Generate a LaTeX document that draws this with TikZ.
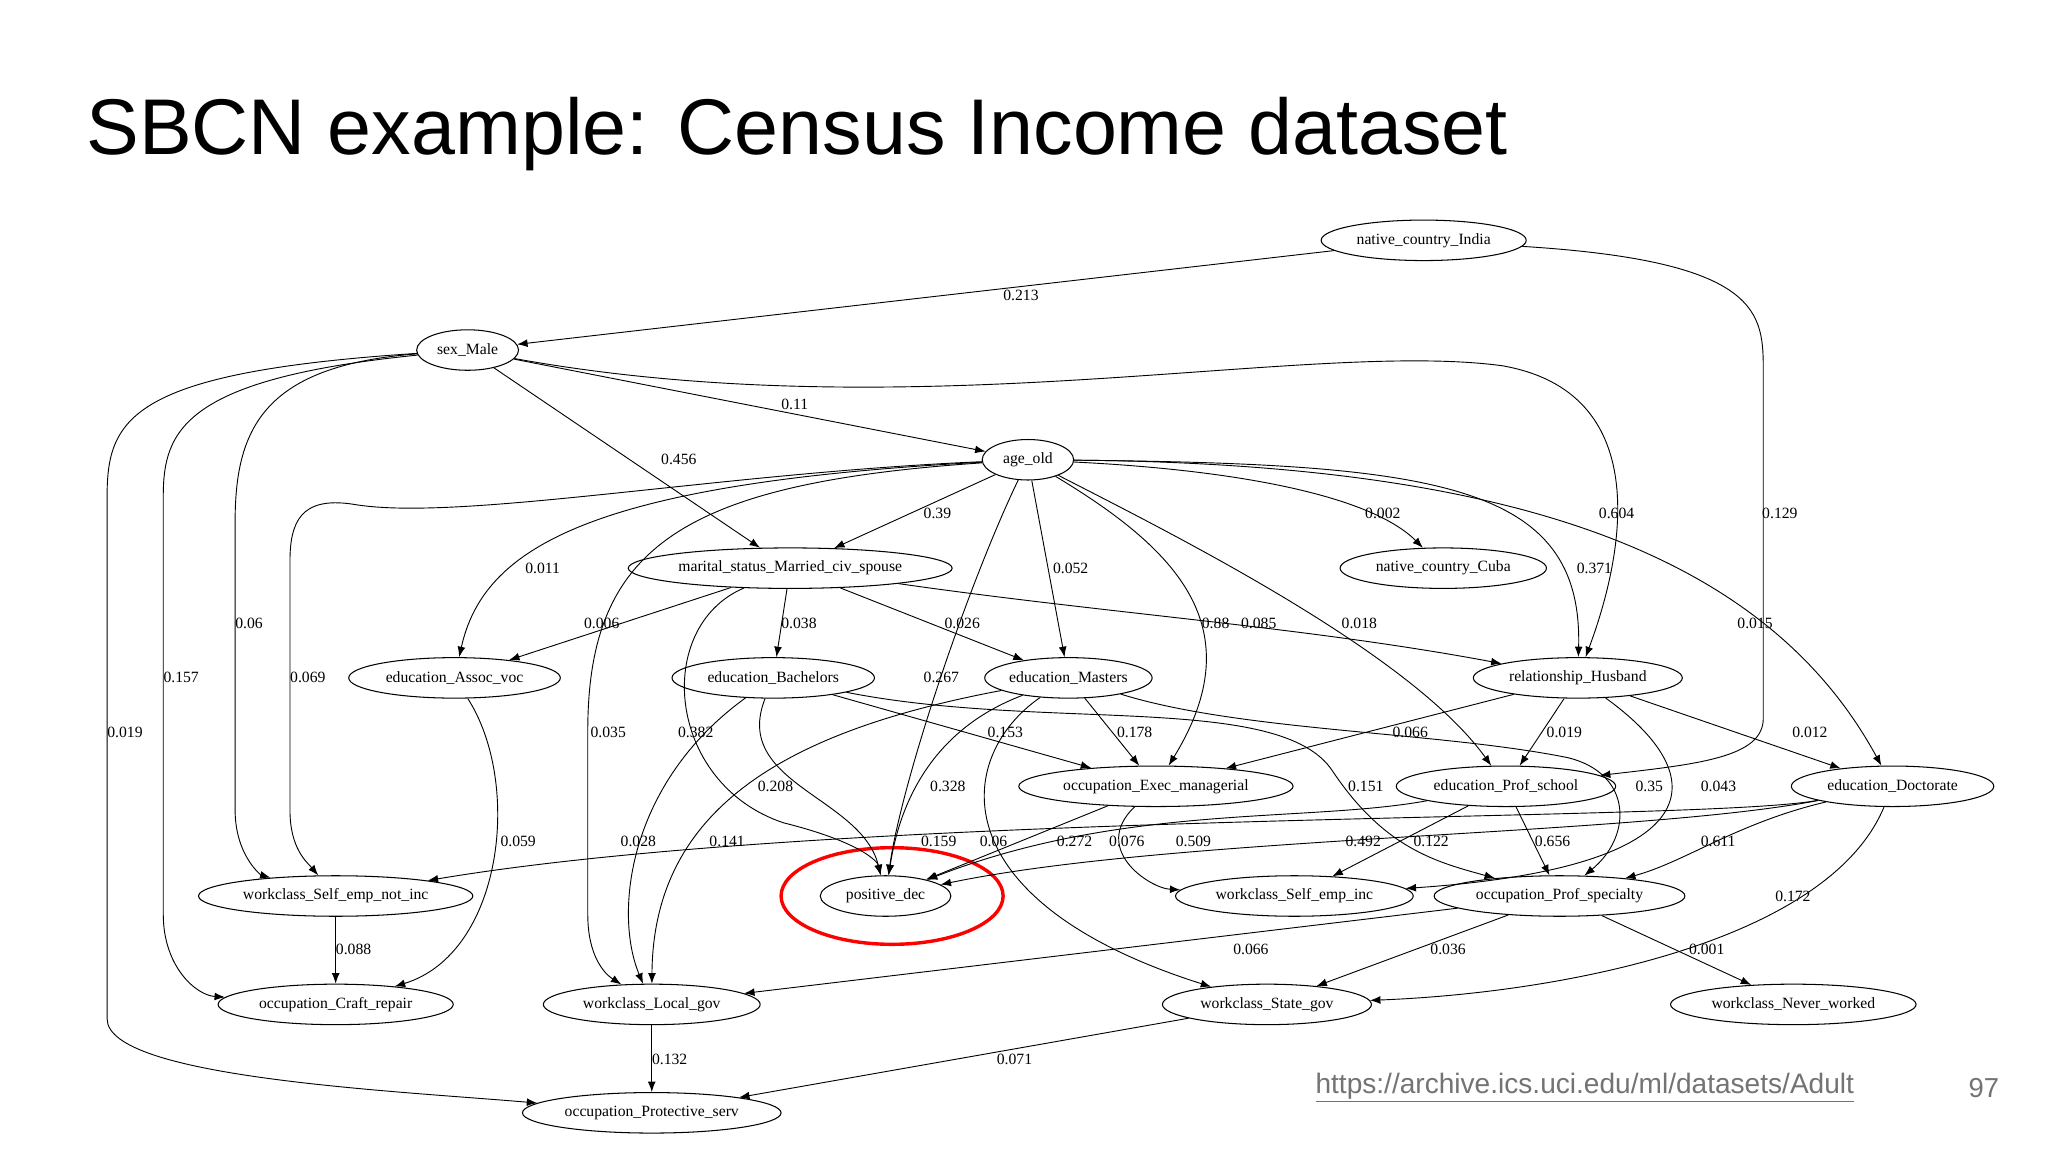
\documentclass[tikz,border=0pt]{standalone}
\usepackage{fontspec}
\setmainfont{Liberation Serif}
\newfontfamily\titlefont{Liberation Sans}
\usetikzlibrary{shapes.geometric,arrows.meta}
\tikzset{
 nd/.style={ellipse,draw,line width=0.8pt,inner sep=0pt,minimum height=31pt,font=\fontsize{12}{14}\selectfont},
 lbl/.style={anchor=west,inner sep=0pt,font=\fontsize{12}{14}\selectfont},
 ed/.style={draw,line width=0.7pt,-{Latex[length=8pt,width=6pt]}}
}
\begin{document}
\begin{tikzpicture}[x=1pt,y=-1pt]
\useasboundingbox (0,0) rectangle (1568,882);
\node[anchor=west,inner sep=0pt,font=\titlefont\fontsize{60.5}{64}\selectfont] (title) at (66,103) {SBCN example: Census Income dataset};
% nodes
\node[nd,minimum width=157pt] (india) at (1090,184) {native\_country\_India};
\node[nd,minimum width=78pt] (sex) at (358,268) {sex\_Male};
\node[nd,minimum width=70pt] (age) at (787,352) {age\_old};
\node[nd,minimum width=248pt] (mar) at (605,435) {marital\_status\_Married\_civ\_spouse};
\node[nd,minimum width=158pt] (cuba) at (1105,435) {native\_country\_Cuba};
\node[nd,minimum width=162pt] (assoc) at (348,519) {education\_Assoc\_voc};
\node[nd,minimum width=155pt] (bach) at (592,519) {education\_Bachelors};
\node[nd,minimum width=128pt] (mast) at (818,519) {education\_Masters};
\node[nd,minimum width=160pt] (hus) at (1208,519) {relationship\_Husband};
\node[nd,minimum width=210pt] (exec) at (885,602) {occupation\_Exec\_managerial};
\node[nd,minimum width=168pt] (psch) at (1153,602) {education\_Prof\_school};
\node[nd,minimum width=155pt] (doct) at (1449,602) {education\_Doctorate};
\node[nd,minimum width=210pt] (sen) at (257,686) {workclass\_Self\_emp\_not\_inc};
\node[nd,minimum width=100pt] (pos) at (678,686) {positive\_dec};
\node[nd,minimum width=182pt] (sinc) at (991,686) {workclass\_Self\_emp\_inc};
\node[nd,minimum width=192pt] (pspec) at (1194,686) {occupation\_Prof\_specialty};
\node[nd,minimum width=180pt] (craft) at (257,769) {occupation\_Craft\_repair};
\node[nd,minimum width=166pt] (local) at (499,769) {workclass\_Local\_gov};
\node[nd,minimum width=160pt] (state) at (970,769) {workclass\_State\_gov};
\node[nd,minimum width=188pt] (never) at (1373,769) {workclass\_Never\_worked};
\node[nd,minimum width=198pt] (prot) at (499,852) {occupation\_Protective\_serv};
\draw[red,line width=2.6pt] (683,686) ellipse (85pt and 37pt);
% edges
\path[ed] (india) -- (sex);
\path[ed] (india) .. controls (1350,200) and (1350,240) .. (1350,285) -- (1350,550) .. controls (1350,580) and (1300,585) .. (psch);
\path[ed] (sex) -- (age);
\path[ed] (sex) -- (mar);
\path[ed] (sex) .. controls (700,330) and (1000,260) .. (1150,280) .. controls (1265,300) and (1245,420) .. (hus);
\path[ed] (sex) .. controls (200,280) and (180,330) .. (180,400) -- (180,620) .. controls (180,655) and (200,670) .. (sen);
\path[ed] (sex) .. controls (140,290) and (125,330) .. (125,380) -- (125,700) .. controls (125,740) and (150,762) .. (craft);
\path[ed] (sex) .. controls (100,285) and (82,320) .. (82,380) -- (82,780) .. controls (82,825) and (300,835) .. (prot);
\path[ed] (age) .. controls (550,362) and (350,400) .. (270,386) .. controls (230,380) and (222,400) .. (222,430) -- (222,620) .. controls (222,650) and (235,660) .. (sen);
\path[ed] (age) .. controls (450,370) and (370,420) .. (assoc);
\path[ed] (age) -- (mar);
\path[ed] (age) .. controls (520,370) and (450,420) .. (450,560) -- (450,700) .. controls (450,740) and (470,750) .. (local);
\path[ed] (age) .. controls (740,450) and (690,600) .. (pos);
\path[ed] (age) -- (mast);
\path[ed] (age) .. controls (900,420) and (960,480) .. (exec);
\path[ed] (age) .. controls (900,410) and (1080,500) .. (psch);
\path[ed] (age) .. controls (950,360) and (1050,380) .. (cuba);
\path[ed] (age) .. controls (1100,355) and (1212,370) .. (hus);
\path[ed] (age) .. controls (1150,355) and (1350,420) .. (doct);
\path[ed] (mar) -- (assoc);
\path[ed] (mar) -- (bach);
\path[ed] (mar) -- (mast);
\path[ed] (mar) .. controls (850,470) and (1000,480) .. (hus);
\path[ed] (mar) .. controls (500,480) and (510,600) .. (600,630) .. controls (660,645) and (672,660) .. (pos);
\path[ed] (bach) .. controls (560,600) and (660,610) .. (pos);
\path[ed] (bach) .. controls (480,600) and (470,700) .. (local);
\path[ed] (bach) -- (exec);
\path[ed] (bach) .. controls (800,560) and (980,530) .. (1020,590) .. controls (1060,650) and (1100,660) .. (pspec);
\path[ed] (mast) .. controls (600,560) and (500,620) .. (local);
\path[ed] (mast) .. controls (710,560) and (688,620) .. (pos);
\path[ed] (mast) -- (exec);
\path[ed] (mast) .. controls (730,580) and (720,690) .. (state);
\path[ed] (mast) .. controls (950,560) and (1100,560) .. (1200,580) .. controls (1250,592) and (1250,640) .. (pspec);
\path[ed] (hus) -- (exec);
\path[ed] (hus) -- (psch);
\path[ed] (hus) -- (doct);
\path[ed] (hus) .. controls (1320,600) and (1300,665) .. (sinc);
\path[ed] (exec) -- (pos);
\path[ed] (exec) .. controls (835,650) and (880,680) .. (sinc);
\path[ed] (psch) .. controls (1000,630) and (860,615) .. (pos);
\path[ed] (psch) -- (sinc);
\path[ed] (psch) -- (pspec);
\path[ed] (doct) .. controls (1300,630) and (650,620) .. (sen);
\path[ed] (doct) .. controls (1250,640) and (900,640) .. (pos);
\path[ed] (doct) .. controls (1330,630) and (1290,660) .. (pspec);
\path[ed] (doct) .. controls (1400,720) and (1200,760) .. (state);
\path[ed] (sen) -- (craft);
\path[ed] (assoc) .. controls (400,600) and (385,730) .. (craft);
\path[ed] (pspec) -- (local);
\path[ed] (pspec) -- (state);
\path[ed] (pspec) -- (never);
\path[ed] (local) -- (prot);
\path[ed] (state) -- (prot);
% labels
\foreach \x/\y/\t in {768/226/0.213,598/310/0.11,506/352/0.456,1349/393/0.129,1224/393/0.604,707/393/0.39,1045/393/0.002,1207/435/0.371,402/435/0.011,806/435/0.052,180/477/0.06,447/477/0.006,598/477/0.038,723/477/0.026,920/477/0.88,950/477/0.085,1027/477/0.018,1330/477/0.015,125/519/0.157,222/519/0.069,707/519/0.267,82/561/0.019,452/561/0.035,519/561/0.382,756/561/0.153,855/561/0.178,1066/561/0.066,1184/561/0.019,1372/561/0.012,580/602/0.208,712/602/0.328,1032/602/0.151,1252/602/0.35,1302/602/0.043,383/644/0.059,475/644/0.028,543/644/0.141,705/644/0.159,750/644/0.06,809/644/0.272,849/644/0.076,900/644/0.509,1030/644/0.492,1082/644/0.122,1175/644/0.656,1302/644/0.611,1359/686/0.172,257/727/0.088,944/727/0.066,1095/727/0.036,1293/727/0.001,499/811/0.132,763/811/0.071}
  \node[lbl] at (\x,\y) {\t};
\node[anchor=west,inner sep=0pt,text=black!55,font=\titlefont\fontsize{21.5}{24}\selectfont] (url) at (1007,833) {\underline{https://archive.ics.uci.edu/ml/datasets/Adult}};
\node[anchor=west,inner sep=0pt,text=black!55,font=\titlefont\fontsize{21}{24}\selectfont] (pg) at (1507,833) {97};
\end{tikzpicture}
\end{document}
